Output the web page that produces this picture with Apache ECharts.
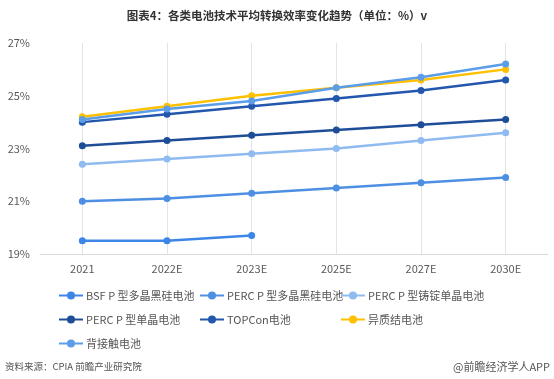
<!DOCTYPE html>
<html><head><meta charset="utf-8">
<script src="https://cdn.jsdelivr.net/npm/echarts@6/dist/echarts.min.js"></script>
<style>html,body{margin:0;padding:0;background:#fff}#c{width:554px;height:379px}</style>
</head><body><div id="c"></div>
<script>
const categories = ['2021','2022E','2023E','2025E','2027E','2030E'];
const yTicks = [19,21,23,25,27];
const names = ['BSF P 型多晶黑硅电池','PERC P 型多晶黑硅电池','PERC P 型铸锭单晶电池','PERC P 型单晶电池','TOPCon电池','异质结电池','背接触电池'];
const bsf = [19.5,19.5,19.7,null,null,null];
const percMulti = [21.0,21.1,21.3,21.5,21.7,21.9];
const percCast = [22.4,22.6,22.8,23.0,23.3,23.6];
const percMono = [23.1,23.3,23.5,23.7,23.9,24.1];
const topcon = [24.0,24.3,24.6,24.9,25.2,25.6];
const hjt = [24.2,24.6,25.0,25.3,25.6,26.0];
const ibc = [24.1,24.5,24.8,25.3,25.7,26.2];
const colors = ['#3d86e8','#4d8fe2','#8fbbf0','#1e4e98','#2357ae','#ffc000','#5b9de9'];
const seriesData = [bsf,percMulti,percCast,percMono,topcon,hjt,ibc];
const font = '"Noto Sans CJK SC", "Noto Sans", sans-serif';
const chart = echarts.init(document.getElementById('c'));
const legendBase = {orient:'vertical', top:290, padding:0, itemWidth:24, itemHeight:10, itemGap:13,
  textStyle:{color:'#555', fontSize:11, fontFamily:font, padding:[0,0,0,-2]}};
chart.setOption({
  animation:false,
  color: colors,
  title:{text:'图表4：各类电池技术平均转换效率变化趋势（单位：%）v', left:'center', top:5,
    textStyle:{fontSize:11.5, fontWeight:'bold', color:'#333', fontFamily:font}},
  legend:[
    Object.assign({left:58, data:[names[0],names[3],names[6]]}, legendBase),
    Object.assign({left:199, data:[names[1],names[4]]}, legendBase),
    Object.assign({left:340, data:[names[2],names[5]]}, legendBase)
  ],
  grid:{left:40, right:6, top:43, bottom:125},
  xAxis:{type:'category', data:categories, boundaryGap:true,
    axisLine:{lineStyle:{color:'#d9d9d9', width:1}}, axisTick:{show:false},
    axisLabel:{color:'#595959', fontSize:11, margin:9, fontFamily:font},
    splitLine:{show:true, alignWithLabel:true, lineStyle:{color:'#e3e3e3', width:1}}},
  yAxis:{type:'value', min:19, max:27,
    axisLine:{show:false}, axisTick:{show:false}, splitLine:{show:false},
    axisLabel:{customValues:yTicks, formatter:'{value}%', color:'#595959', fontSize:11, margin:10, fontFamily:font}},
  series: seriesData.map((d,i)=>({
    name:names[i], type:'line', data:d, symbol:'circle', symbolSize:7,
    lineStyle:{width:2.5, color:colors[i]}, itemStyle:{color:colors[i]}, connectNulls:false
  })),
  graphic:[
    {type:'text', left:5, top:362, style:{text:'资料来源：CPIA 前瞻产业研究院', fill:'#555', font:'9.5px '+font}},
    {type:'text', right:4, top:361, style:{text:'@前瞻经济学人APP', fill:'#555', font:'11px '+font}}
  ]
});
</script></body></html>
